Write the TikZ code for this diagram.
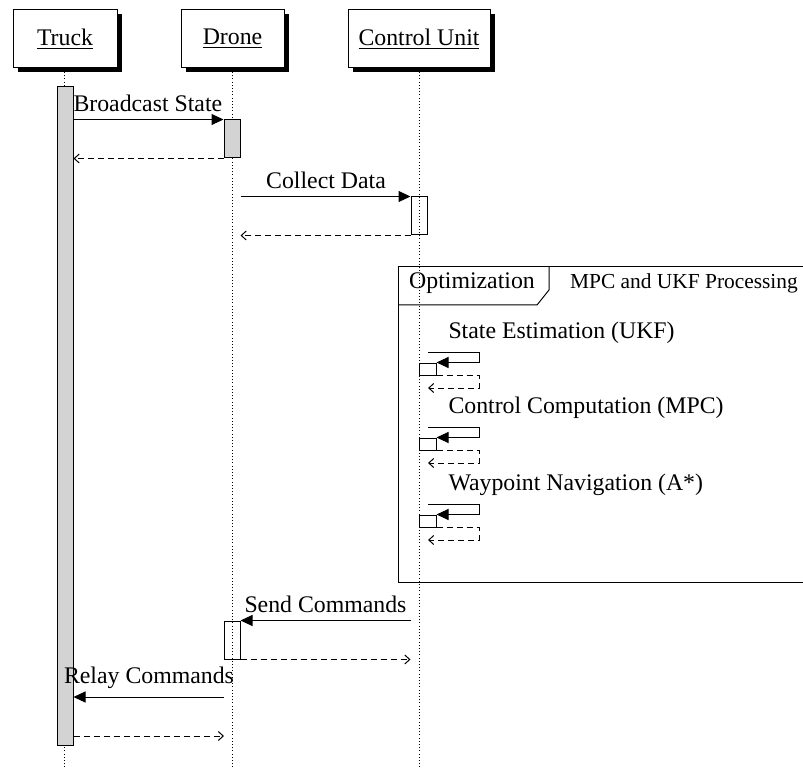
\documentclass[tikz,border=0pt]{standalone}
\usepackage{fontspec}
\setmainfont{Liberation Serif}
\usetikzlibrary{arrows.meta,shadows,calc}
\definecolor{actgray}{RGB}{211,211,211}
\begin{document}
\begin{tikzpicture}[x=0.5pt,y=-0.5pt,line width=0.5pt,
  font=\fontsize{11.9}{14}\selectfont,
  inst/.style={draw,fill=white,minimum height=29pt,inner sep=0pt,
    drop shadow={shadow xshift=2.5pt,shadow yshift=-2.2pt,opacity=1,fill=black}},
  lifeline/.style={line width=0.4pt,dash pattern=on 0.4pt off 1.2pt},
  act/.style={draw,minimum width=8pt,inner sep=0pt},
  selfact/.style={draw,minimum width=8.5pt,minimum height=6pt,inner sep=0pt},
  call/.style={-{Triangle[length=6pt,width=5.5pt]}},
  ret/.style={dash pattern=on 3pt off 2pt,-{Straight Barb[length=2.5pt,width=4.5pt]}},
  lbl/.style={inner sep=0pt,anchor=base},
  lblw/.style={inner sep=0pt,anchor=base west}]
\useasboundingbox (0,0) rectangle (803,770);
\clip (0,0) rectangle (803,770);

% lifelines
\coordinate (bot) at (0,768);
\node[inst,minimum width=52pt] (truck) at (65,39) {\underline{Truck}};
\node[inst,minimum width=51.5pt] (drone) at (232.5,39) {\underline{Drone}};
\node[inst,minimum width=71pt] (cu) at (419,39) {\underline{Control Unit}};
\coordinate (tl) at (64.5,72);
\coordinate (dl) at (232,72);
\coordinate (cl) at (419,72);
\draw[lifeline] (tl) -- (tl |- bot);
\draw[lifeline] (dl) -- (dl |- bot);
\draw[lifeline] (cl) -- (cl |- bot);

% activations
\node[act,fill=actgray,minimum height=329pt] (ta) at (65,416) {};
\node[act,fill=actgray,minimum height=19pt] (da1) at (232,139) {};
\node[act,minimum height=19pt] (cua) at (419,216) {};
\node[act,minimum height=19pt] (da2) at (232,640) {};

% Broadcast State
\draw[call] (ta.east |- da1.north) -- (da1.north west);
\node[lblw] (l1) at (73,112) {Broadcast State};
\draw[ret] (da1.south west) -- (ta.east |- da1.south);

% Collect Data
\draw[call] (da1.east |- cua.north) -- (cua.north west);
\node[lbl] (l2) at (326,189) {Collect Data};
\draw[ret] (cua.south west) -- (da1.east |- cua.south);

% Optimization frame
\draw (398,267) rectangle (820,582);
\draw (398,305) -- (537,305) -- (549,290) -- (549,267);
\node[lbl] (fo) at (472,289) {Optimization};
\node[lbl,font=\fontsize{10.7}{13}\selectfont] (fm) at (684,289) {MPC and UKF Processing};

% self calls
\foreach \n/\ty/\txt in {1/338/{State Estimation (UKF)},2/413/{Control Computation (MPC)},3/490/{Waypoint Navigation (A*)}}{
  \pgfmathsetmacro{\yt}{\ty+14}
  \node[lblw] (st\n) at (448,\ty) {\txt};
  \coordinate (sa\n) at (428,\yt);
  \coordinate (sb\n) at (479,\yt);
  \node[selfact] (sr\n) at (427.5,\yt+17) {};
  \coordinate (sc\n) at (428,\yt+36);
  \draw[call] (sa\n) -- (sb\n) |- (sr\n.north east);
  \draw[ret] (sr\n.south east) -| (sb\n |- sc\n) -- (sc\n);
}

% Send Commands
\draw[call] (cua.west |- da2.north) -- (da2.north east);
\node[lbl] (l3) at (325.5,612) {Send Commands};
\draw[ret] (da2.south east) -- (cua.west |- da2.south);

% Relay Commands
\coordinate (r1) at (224,697);
\coordinate (r2) at (224,736);
\node[lbl] (l4) at (149,683) {Relay Commands};
\draw[call] (r1) -- (ta.east |- r1);
\draw[ret] (ta.east |- r2) -- (r2);
\end{tikzpicture}
\end{document}
